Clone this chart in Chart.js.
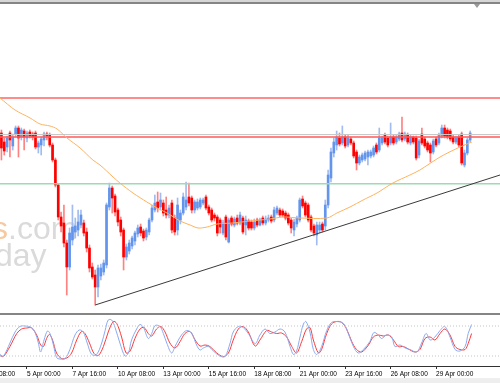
<!DOCTYPE html>
<html>
<head>
<meta charset="utf-8">
<script src="https://cdn.jsdelivr.net/npm/chart.js@4.4.1/dist/chart.umd.min.js"></script>
<style>
  html, body { margin: 0; padding: 0; background: #fff; }
  #wrap { position: relative; width: 500px; height: 383px; overflow: hidden; background: #fff; }
  #mainChart { position: absolute; left: 0; top: 0; }
  #stochChart { position: absolute; left: 0; top: 315px; }
  #topLight { position: absolute; left: 0; top: 0; width: 500px; height: 2px; background: #d6d6d6; }
  #topDark { position: absolute; left: 0; top: 2px; width: 500px; height: 2px; background: #858585; }
  #shift { position: absolute; left: 474px; top: 4px; width: 0; height: 0;
           border-left: 3px solid transparent; border-right: 3px solid transparent; border-top: 4px solid #9a9a9a; }
  #sep { position: absolute; left: 0; top: 313px; width: 500px; height: 2px; background: #858585; }
  #bottomBand { position: absolute; left: 0; top: 378px; width: 500px; height: 5px; background: #eeeeee; }
</style>
</head>
<body>
<div id="wrap">
  <div id="bottomBand"></div>
  <canvas id="mainChart" width="500" height="313"></canvas>
  <canvas id="stochChart" width="500" height="68"></canvas>
  <div id="topLight"></div>
  <div id="topDark"></div>
  <div id="shift"></div>
  <div id="sep"></div>
</div>
<script>
// H4 candles, bar index 0 = 3 Apr 12:00
const open = [
  178,169,164,178,165,177,183,174,180,173, 179,177,178,164,166,171,177,176,166,151,
  126,94,88,68,44,71,79,81,86,88, 79,63,44,36,24,35,39,46,104,123,
  115,101,91,81,54,60,65,70,77,84, 80,74,79,91,101,109,104,108,101,96,
  108,93,81,91,98,104,114,113,101,103, 104,108,114,104,101,96,94,91,78,94,
  69,93,86,93,88,93,86,90,89,83, 91,86,93,88,91,94,91,98,101,100,
  98,96,91,81,87,91,112,108,106,94, 85,76,81,87,85,106,133,158,166,173,
  168,174,166,172,168,159,148,151,152,154, 155,156,166,161,168,176,173,168,174,169,
  172,178,172,176,168,174,173,156,177,172, 168,166,159,172,168,175,183,181,180,174,
  169,174,177,146,158,171
];
const high = [
  181,173,175,180,177,185,185,183,182,180, 181,179,180,170,174,179,179,178,168,153,
  127,99,106,71,83,106,93,101,101,91, 83,66,48,41,46,47,51,108,128,125,
  117,103,94,83,67,71,75,80,86,87, 82,83,93,106,116,119,118,111,114,106,
  111,96,113,101,118,129,128,115,111,112, 113,113,116,106,103,98,96,93,91,96,
  93,95,94,96,99,95,95,92,91,92, 93,93,95,95,96,96,104,105,103,102,
  100,98,93,92,95,113,115,110,108,96, 87,89,89,89,111,141,163,173,180,178,
  185,176,176,174,170,161,156,158,160,161, 161,165,168,183,175,178,175,188,176,176,
  179,194,179,178,176,175,175,172,183,174, 170,168,172,174,178,186,186,183,182,176,
  175,176,179,161,173,180
];
const low = [
  151,156,159,154,161,174,154,171,161,169, 173,171,162,158,156,165,171,164,149,124,
  91,79,64,16,41,66,73,75,83,75, 59,39,32,6,14,31,36,43,101,98,
  95,85,75,41,51,57,62,66,74,75, 70,71,76,89,99,99,101,95,93,93,
  78,76,76,87,96,101,105,98,98,101, 102,106,101,96,89,90,75,78,76,71,
  68,85,84,86,86,77,76,81,81,81, 84,85,86,86,89,88,89,96,94,94,
  91,86,78,75,84,89,103,94,89,79, 75,66,78,79,81,103,129,154,161,165,
  166,163,164,166,153,141,146,149,150,146, 153,154,157,159,166,167,164,166,166,167,
  170,169,170,167,166,167,151,153,166,163, 159,149,157,164,166,173,173,172,170,167,
  167,164,146,144,156,169
];
const close = [
  163,160,173,171,174,183,173,181,174,178, 175,174,164,168,172,177,175,166,151,126,
  94,85,68,44,78,84,85,89,96,78, 63,43,34,24,43,43,48,106,123,113,
  99,89,79,54,64,68,73,78,83,78, 73,81,91,103,108,103,111,98,96,103,
  81,79,106,98,114,111,108,101,109,109, 111,111,103,98,91,93,78,84,88,74,
  91,87,92,88,96,79,91,83,83,89, 86,91,88,92,93,90,101,103,96,96,
  93,88,83,89,93,111,105,96,91,81, 78,86,86,81,106,136,159,169,174,167,
  174,165,173,168,155,148,154,156,158,159, 159,163,159,173,173,169,166,174,168,174,
  177,171,177,169,174,169,153,170,168,165, 161,158,170,166,176,183,175,174,172,169,
  173,166,148,158,171,178
];

// moving average, read at bar positions
const maIdx = [-0.5,4.8,10.1,13.6,17.1,19.6,23.1,27.7,32.2,34.7,39.3,41.7,46.3,51.2,54.8,58.3,62.9,66.4,69.2,72.4,
  75.9,81.5,87.5,94.5,99.1,105.1,114.6,118.1,122.7,127.3,132.2,137.8,143.8,147.3,154.4,161.4,165.6];
const maVal = [213,201,193,187,185,182,173,163,151,146,134,128,118,109,103,98,90,86,83,84,
  87,88,90,92,94,93,93,98,104,111,118,128,136,141,154,164,169];

// horizontal levels and trend line
const levels = [213, 176.5, 174, 127.3];
const levelColors = ['#ff6464', '#c8c8c8', '#ff5a5a', '#9edbb2'];
const trendIdx = [33, 175.5];
const trendVal = [6, 136];

// stochastic %K and %D
const kIdx = [-0.5,0.7,3,4.8,6.5,8.3,10.6,11.8,13,13.8, 15,16.2,17.1,18.3,19.4,20.6,22.4,24.1,25.9,27.4,
  28.8,30.2,31.8,33.5,35.3,36.5,37.6,38.8,40,41.7, 43.5,44.7,45.8,47.6,48.8,50,51.7,52.9,54.1,55.8,
  57,58.2,59.9,61.1,62.3,63.4,65.2,67,68.7,69.9, 71.1,72.8,74.6,76.9,78.7,80.5,81.6,83.4,85.1,86.9,
  89.3,91,92.8,94.5,96.3,98.1,99.8,101.6,102.8,103.9, 105.1,106.3,107.2,108.6,109.8,111,112.7,114.5,116.2,118,
  120.4,122.1,123.9,125.6,127.4,129.7,131.1,132.7,133.8,135.6, 137.4,138.5,140.3,142.1,143.8,146.2,147.9,149.5,150.9,152.6,
  154.4,156.1,157.9,159.7,161.4,163.2,164.3,165.5];
const kVal = [23,20,46,68,79,80,77,68,46,28, 52,70,65,42,17,14,15,33,62,72,
  68,46,23,23,46,71,92,92,77,46, 20,26,52,74,83,77,55,65,81,79,
  65,46,26,39,52,62,71,65,42,32, 36,39,30,20,19,46,68,79,77,65,
  45,62,74,65,68,74,68,39,23,30, 58,84,89,68,33,23,39,71,87,89,
  85,65,39,26,33,49,67,62,55,62, 58,39,42,36,33,28,46,65,52,58,
  71,79,58,33,30,39,65,83];
const dIdx = [-0.5,0.7,3,5.4,7.1,8.9,10.6,12.4,13.8,14.8, 15.9,16.9,18,19.4,21.2,23,24.7,26.5,28.2,29.4,
  31,32.6,34.1,35.9,37.6,39.4,40.6,42.3,43.9,45.3, 47,48.8,50.2,51.7,52.9,54.6,56.1,57.6,59.3,61.1,
  62.9,64.6,66.4,68.1,69.9,71.7,73.4,75.8,78.1,79.9, 81.6,83.4,85.1,86.9,
  89.3,91,93.4,95.1,96.9,98.6,100.4,102.2,103.9,105.7, 107.4,108.6,109.8,111.6,112.7,114.5,116.2,118,119.8,121.5,
  123.3,125,126.8,129.2,130.9,132.7,134.4,136.2,138,139.7, 141.5,143.2,145.6,147.3,149.1,150.9,152.6,154.4,156.1,157.9,
  159.7,161.4,163.2,164.3,165.5];
const dVal = [21,19,39,65,74,76,76,62,42,39, 55,63,52,26,15,16,26,52,69,65,
  46,25,21,39,68,89,85,58,26,30, 55,74,77,65,60,74,79,68,46,36,
  49,65,69,53,40,42,39,26,19,26, 52,74,79,68,
  40,52,71,68,65,66,58,39,26,49, 74,77,52,26,33,65,84,89,87,74,
  49,33,28,42,58,62,60,62,52,39, 39,34,28,33,55,58,52,65,74,62,
  39,33,33,45,65];
const stochLevels = [80, 20];

// time axis
const tickIdx = [-7, 9, 25, 41, 57, 73, 89, 105, 121, 137, 153];
const tickText = ['2 Apr 08:00', '5 Apr 00:00', '7 Apr 16:00', '10 Apr 08:00', '13 Apr 00:00', '15 Apr 16:00',
  '18 Apr 08:00', '21 Apr 00:00', '23 Apr 16:00', '26 Apr 08:00', '29 Apr 00:00'];

const X_MIN = -0.5, X_MAX = 175.5;

const bull = close.map((c, i) => c >= open[i]);
const bodyColors = bull.map(b => b ? '#6495ed' : '#ff0000');
const wickColors = bull.map(b => b ? '#a0bcf0' : '#ff8282');

const watermark = {
  id: 'watermark',
  beforeDatasetsDraw(chart) {
    const c = chart.ctx;
    c.save();
    c.font = '32px "Liberation Sans", Arial, sans-serif';
    c.textBaseline = 'alphabetic';
    const sw = c.measureText('s').width;
    c.fillStyle = '#f6c9a0';
    c.fillText('s', -8, 239);
    c.fillStyle = '#dadada';
    c.fillText('.com', -8 + sw, 239);
    c.fillText('day', -5, 266);
    c.restore();
  }
};

const lineStyle = { pointRadius: 0, fill: false, borderWidth: 1 };

new Chart(document.getElementById('mainChart'), {
  type: 'bar',
  data: {
    datasets: [
      { type: 'line', label: 'MA', data: maIdx.map((x, k) => ({ x, y: maVal[k] })),
        borderColor: '#ffb25e', tension: 0.3, order: 0, ...lineStyle },
      { type: 'line', label: 'trend', data: trendIdx.map((x, k) => ({ x, y: trendVal[k] })),
        borderColor: '#3a3a3a', order: 1, ...lineStyle },
      ...levels.map((lv, k) => ({
        type: 'line', label: 'level' + k,
        data: [{ x: X_MIN, y: lv }, { x: X_MAX, y: lv }],
        borderColor: levelColors[k], order: 2, ...lineStyle,
        borderWidth: k === 1 ? 1 : 1.6
      })),
      { label: 'body', data: open.map((o, i) => ({ x: i, y: [o, close[i]] })),
        backgroundColor: bodyColors, barThickness: 2, grouped: false, order: 3 },
      { label: 'wick', data: low.map((l, i) => ({ x: i, y: [l, high[i]] })),
        backgroundColor: wickColors, barThickness: 1, grouped: false, order: 4 }
    ]
  },
  options: {
    responsive: false,
    animation: false,
    devicePixelRatio: 1,
    layout: { padding: { top: 4, bottom: 2, left: 0, right: 0 } },
    plugins: { legend: { display: false }, tooltip: { enabled: false } },
    scales: {
      x: { type: 'linear', min: X_MIN, max: X_MAX, offset: false, display: false },
      y: { min: 0, max: 307, display: false }
    }
  },
  plugins: [watermark]
});

new Chart(document.getElementById('stochChart'), {
  type: 'line',
  data: {
    datasets: [
      ...stochLevels.map(lv => ({
        data: [{ x: X_MIN, y: lv }, { x: X_MAX, y: lv }],
        borderColor: '#c4c4c4', borderDash: [1, 2], ...lineStyle
      })),
      { label: '%K', data: kIdx.map((x, k) => ({ x, y: kVal[k] })), borderColor: '#8aaaf0', tension: 0.35, ...lineStyle },
      { label: '%D', data: dIdx.map((x, k) => ({ x, y: dVal[k] })), borderColor: '#ff3838', tension: 0.35, ...lineStyle }
    ]
  },
  options: {
    responsive: false,
    animation: false,
    devicePixelRatio: 1,
    layout: { padding: { top: 1, bottom: 0, left: 0, right: 0 } },
    plugins: { legend: { display: false }, tooltip: { enabled: false } },
    scales: {
      x: {
        type: 'linear', min: X_MIN, max: X_MAX, offset: false,
        afterBuildTicks: s => { s.ticks = tickIdx.map(v => ({ value: v })); },
        afterFit: s => { s.paddingLeft = 0; s.paddingRight = 0; s.height = 17; },
        ticks: {
          autoSkip: false, maxRotation: 0, align: 'start', padding: 1, color: '#000',
          font: { family: '"Liberation Sans", Arial, sans-serif', size: 6.5 },
          callback: (v, i) => tickText[i]
        },
        grid: { drawOnChartArea: false, drawTicks: true, tickLength: 3, color: '#333' },
        border: { display: true, color: '#333' }
      },
      y: { min: 0, max: 100, display: false }
    }
  }
});
</script>
</body>
</html>
